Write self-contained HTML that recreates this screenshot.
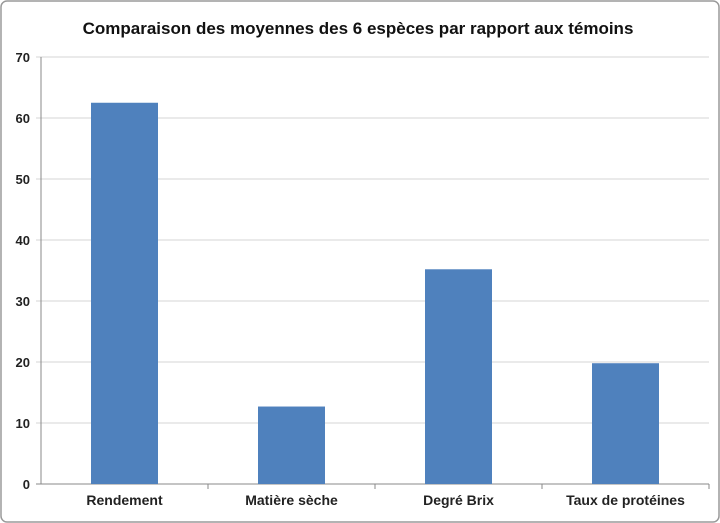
<!DOCTYPE html>
<html><head><meta charset="utf-8"><style>
html,body{margin:0;padding:0;background:#fff;}
svg{display:block;font-family:"Liberation Sans",Arial,sans-serif;}
</style></head><body>
<svg id="chart" width="720" height="523">
<rect x="1" y="1" width="718" height="521" rx="6" fill="#fff" stroke="#9a9a9a" stroke-width="1.5"/>
<text x="358" y="34" text-anchor="middle" font-size="17" font-weight="bold" fill="#111">Comparaison des moyennes des 6 espèces par rapport aux témoins</text>
<g id="grid"></g><g id="bars"></g><g id="axes"></g>
</svg>
<script>
const categories=["Rendement","Matière sèche","Degré Brix","Taux de protéines"];
const values=[62.5,12.7,35.2,19.8];
const yTicks=[0,10,20,30,40,50,60,70];
const NS="http://www.w3.org/2000/svg";
const x0=41,x1=709,yBase=484,yTop=57,yMax=70;
const y=v=>yBase-(v/yMax)*(yBase-yTop);
const band=(x1-x0)/categories.length;
const xc=i=>x0+band*(i+0.5);
function mk(t,a,p){const e=document.createElementNS(NS,t);for(const k in a)e.setAttribute(k,a[k]);p.appendChild(e);return e;}
const grid=document.getElementById('grid'),bars=document.getElementById('bars'),axes=document.getElementById('axes');
yTicks.forEach(t=>{
 const l=mk('line',{x1:x0-5,x2:x1,y1:y(t),y2:y(t),stroke:t===0?'#888':'#d4d4d4','stroke-width':1},grid);
 
 
 const tx=mk('text',{x:30,y:y(t)+5,'text-anchor':'end','font-size':13,'font-weight':'bold',fill:'#222'},axes);
 tx.textContent=t;
 
 
});
const ax=mk('line',{x1:x0,x2:x0,y1:yTop,y2:yBase,stroke:'#888','stroke-width':1},axes);


const bw=67;
categories.forEach((c,i)=>{
 const r=mk('rect',{x:xc(i)-bw/2,y:y(values[i]),width:bw,height:yBase-y(values[i]),fill:'#4f81bd'},bars);
 
 
 const tk=mk('line',{x1:x0+band*(i+1),x2:x0+band*(i+1),y1:yBase,y2:yBase+5,stroke:'#888'},axes);
 
 
 const t=mk('text',{x:xc(i),y:505,'text-anchor':'middle','font-size':14,'font-weight':'bold',fill:'#222'},axes);
 t.textContent=c;
 
 
});
</script>
</body></html>
